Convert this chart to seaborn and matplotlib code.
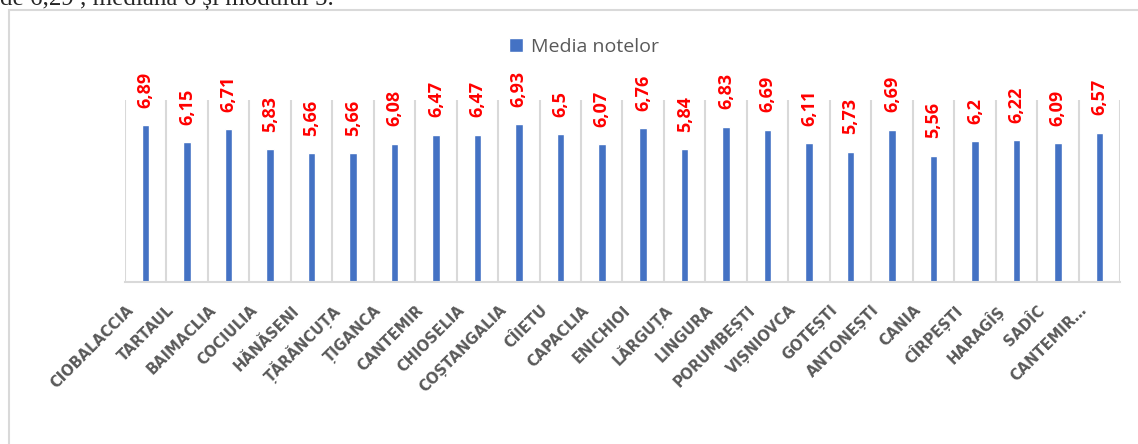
import numpy as np
import pandas as pd
import matplotlib.pyplot as plt
import matplotlib.transforms as mtransforms
from matplotlib.patches import Rectangle
import seaborn as sns

# data
localitati = ['CIOBALACCIA', 'TARTAUL', 'BAIMACLIA', 'COCIULIA', 'HĂNĂSENI', 'ȚĂRĂNCUȚA',
              'ȚIGANCA', 'CANTEMIR', 'CHIOSELIA', 'COȘTANGALIA', 'CÎIETU', 'CAPACLIA',
              'ENICHIOI', 'LĂRGUȚA', 'LINGURA', 'PORUMBEȘTI', 'VIȘNIOVCA', 'GOTEȘTI',
              'ANTONEȘTI', 'CANIA', 'CÎRPEȘTI', 'HARAGÎȘ', 'SADÎC', 'CANTEMIR…']
medii = [6.89, 6.15, 6.71, 5.83, 5.66, 5.66, 6.08, 6.47, 6.47, 6.93, 6.5, 6.07,
         6.76, 5.84, 6.83, 6.69, 6.11, 5.73, 6.69, 5.56, 6.2, 6.22, 6.09, 6.57]
serie = 'Media notelor'

df = pd.DataFrame({'Localitate': localitati, serie: medii})

sns.set_style('white')
plt.rcParams['font.family'] = ['Open Sans', 'DejaVu Sans']

W, H = 1138, 444
fig = plt.figure(figsize=(W / 100, H / 100), dpi=100)
ax = fig.add_axes([125 / W, (H - 282) / H, (1120 - 125) / W, (282 - 100) / H])

sns.barplot(data=df, x='Localitate', y=serie, color='#4472C4', width=0.18,
            saturation=1, ax=ax)

ax.set_xlim(-0.5, len(localitati) - 0.5)
ax.set_ylim(0, 8)
ax.set_yticks([])
ax.set_xlabel('')
ax.set_ylabel('')
for s in ['left', 'top', 'right']:
    ax.spines[s].set_visible(False)
ax.spines['bottom'].set_color('#D9D9D9')
ax.spines['bottom'].set_linewidth(1.5)

# vertical gridlines between categories
ax.set_xticks(np.arange(-0.5, len(localitati), 1), minor=True)
ax.grid(True, which='minor', axis='x', color='#D9D9D9', lw=1.5)
ax.grid(False, which='major')
ax.tick_params(axis='x', which='both', length=0)

# value labels
for i, v in enumerate(medii):
    ax.annotate(str(v).replace('.', ','), (i, v), xytext=(0, 12.5),
                textcoords='offset points', rotation=90, ha='center', va='bottom',
                color='red', fontweight='bold', fontsize=13, annotation_clip=False)

# category labels
ax.set_xticklabels(localitati, rotation=45, ha='right', va='center',
                   rotation_mode='anchor', color='#595959', fontweight='bold',
                   fontsize=10.5, family='DejaVu Sans')
offset = mtransforms.ScaledTranslation(-15 / 100, -21 / 100, fig.dpi_scale_trans)
for lbl in ax.get_xticklabels():
    lbl.set_transform(lbl.get_transform() + offset)

# legend
handle = Rectangle((0, 0), 1, 1, facecolor='#4472C4')
fig.legend([handle], [serie], loc='center', bbox_to_anchor=(584 / W, 1 - 47 / H),
           frameon=False, fontsize=14, handlelength=0.7, handleheight=0.7,
           handletextpad=0.4, labelcolor='#595959')

# chart frame and cut text above it
fig.patches.append(Rectangle((9 / W, -0.1), 1.2, (H - 10) / H + 0.1, transform=fig.transFigure,
                             fill=False, edgecolor='#D9D9D9', lw=1.5))
fig.text(0.0, 1 - 5 / H, 'de 6,29 , mediana 6 și modulul 5.', family='Liberation Serif',
         fontsize=18, va='baseline', ha='left')

fig.savefig('out.png', dpi=100)
